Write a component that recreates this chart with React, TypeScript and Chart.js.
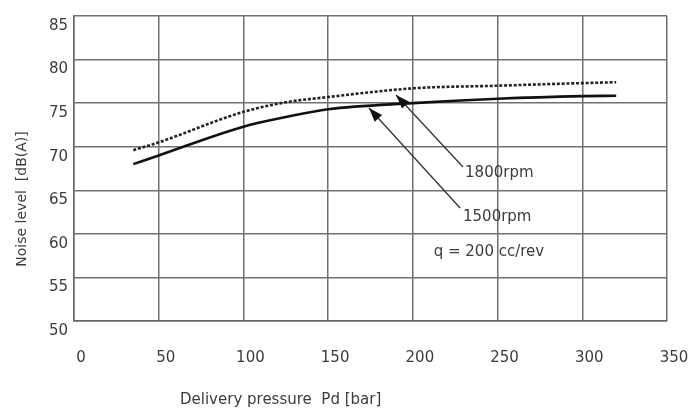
import React, { useEffect, useRef } from 'react';
import { Chart, registerables } from 'chart.js';

Chart.register(...registerables);

// Delivery pressure [bar]
const pressure = [35, 50, 100, 125, 150, 200, 250, 300, 320];
// Noise level [dB(A)]
const noise1500 = [68.0, 69.0, 72.3, 73.4, 74.3, 75.0, 75.5, 75.8, 75.85];
const noise1800 = [69.6, 70.5, 74.0, 75.1, 75.7, 76.7, 77.0, 77.3, 77.4];

const xTicksMin = 0;
const xTicksMax = 350;
const xStep = 50;
const yTicksMin = 50;
const yTicksMax = 85;
const yStep = 5;

// Annotations: [tipX, tipY, tailX, tailY] in data units
const arrow1800 = [190.1, 75.94, 229.6, 67.67];
const arrow1500 = [174.1, 74.44, 227.9, 62.97];
// Labels: text, x, y (data units)
const labelTexts = ['1800rpm', '1500rpm', 'q = 200 cc/rev'];
const labelX = [230.8, 229.6, 212.3];
const labelY = [66.98, 61.94, 57.9];

const xTitle = 'Delivery pressure  Pd [bar]';
const yTitle = 'Noise level  [dB(A)]';

const FONT = '"DejaVu Sans", Verdana, sans-serif';
const TEXT_COLOR = '#3c3c3c';

const annotPlugin = {
  id: 'annot',
  afterDatasetsDraw(chart: any) {
    const ctx = chart.ctx;
    const xs = chart.scales.x;
    const ys = chart.scales.y;
    ctx.save();
    const drawArrow = (a: number[]) => {
      const tx = xs.getPixelForValue(a[0]);
      const ty = ys.getPixelForValue(a[1]);
      const sx = xs.getPixelForValue(a[2]);
      const sy = ys.getPixelForValue(a[3]);
      ctx.strokeStyle = '#333';
      ctx.lineWidth = 1.3;
      ctx.beginPath();
      ctx.moveTo(sx, sy);
      ctx.lineTo(tx, ty);
      ctx.stroke();
      const ang = Math.atan2(ty - sy, tx - sx);
      const len = 14;
      const w = 5;
      const bx = tx - len * Math.cos(ang);
      const by = ty - len * Math.sin(ang);
      ctx.fillStyle = '#111';
      ctx.beginPath();
      ctx.moveTo(tx, ty);
      ctx.lineTo(bx + w * Math.sin(ang), by - w * Math.cos(ang));
      ctx.lineTo(bx - w * Math.sin(ang), by + w * Math.cos(ang));
      ctx.closePath();
      ctx.fill();
    };
    drawArrow(arrow1800);
    drawArrow(arrow1500);

    ctx.fillStyle = TEXT_COLOR;
    ctx.font = `15px ${FONT}`;
    ctx.textAlign = 'left';
    ctx.textBaseline = 'middle';
    labelTexts.forEach((t, i) => {
      ctx.fillText(t, xs.getPixelForValue(labelX[i]), ys.getPixelForValue(labelY[i]));
    });

    // axis titles
    ctx.font = `15px ${FONT}`;
    ctx.textAlign = 'left';
    ctx.fillText(xTitle, 180, chart.height - 8);
    ctx.save();
    ctx.font = `14px ${FONT}`;
    ctx.translate(22, ys.getPixelForValue(64));
    ctx.rotate(-Math.PI / 2);
    ctx.textAlign = 'center';
    ctx.fillText(yTitle, 0, 0);
    ctx.restore();
    ctx.restore();
  },
};

export default function App() {
  const ref = useRef<HTMLCanvasElement | null>(null);
  useEffect(() => {
    if (!ref.current) return;
    const chart = new Chart(ref.current, {
      type: 'line',
      data: {
        datasets: [
          {
            label: '1500rpm',
            data: pressure.map((p, i) => ({ x: p, y: noise1500[i] })),
            borderColor: '#111',
            borderWidth: 2.6,
            pointRadius: 0,
            cubicInterpolationMode: 'monotone',
            fill: false,
          },
          {
            label: '1800rpm',
            data: pressure.map((p, i) => ({ x: p, y: noise1800[i] })),
            borderColor: '#222',
            borderWidth: 2.6,
            borderDash: [3, 1.8],
            pointRadius: 0,
            cubicInterpolationMode: 'monotone',
            fill: false,
          },
        ],
      },
      options: {
        animation: false,
        responsive: false,
        devicePixelRatio: 1,
        layout: { padding: { left: 0, top: 16, right: 24, bottom: 0 } },
        plugins: { legend: { display: false }, tooltip: { enabled: false } },
        scales: {
          x: {
            type: 'linear',
            min: xTicksMin,
            max: xTicksMax,
            ticks: {
              stepSize: xStep,
              labelOffset: 7,
              padding: 28,
              color: TEXT_COLOR,
              font: { family: FONT, size: 15 },
            },
            grid: { color: '#707070', lineWidth: 1.5, drawTicks: false },
            border: { color: '#666', width: 1.5 },
            afterFit: (s: any) => {
              s.height = 87;
              s.paddingLeft = 0;
              s.paddingRight = 0;
            },
          },
          y: {
            type: 'linear',
            min: yTicksMin,
            max: yTicksMax,
            ticks: {
              stepSize: yStep,
              labelOffset: 10,
              padding: 6,
              color: TEXT_COLOR,
              font: { family: FONT, size: 15 },
            },
            grid: { color: '#707070', lineWidth: 1.5, drawTicks: false },
            border: { color: '#666', width: 1.5 },
            afterFit: (s: any) => {
              s.width = 74;
              s.paddingTop = 0;
              s.paddingBottom = 0;
            },
          },
        },
      },
      plugins: [annotPlugin],
    } as any);
    return () => chart.destroy();
  }, []);
  return (
    <div style={{ position: 'fixed', left: 0, top: 0, width: 691, height: 408, background: '#fff' }}>
      <canvas ref={ref} width={691} height={408} style={{ width: 691, height: 408, display: 'block' }} />
    </div>
  );
}
